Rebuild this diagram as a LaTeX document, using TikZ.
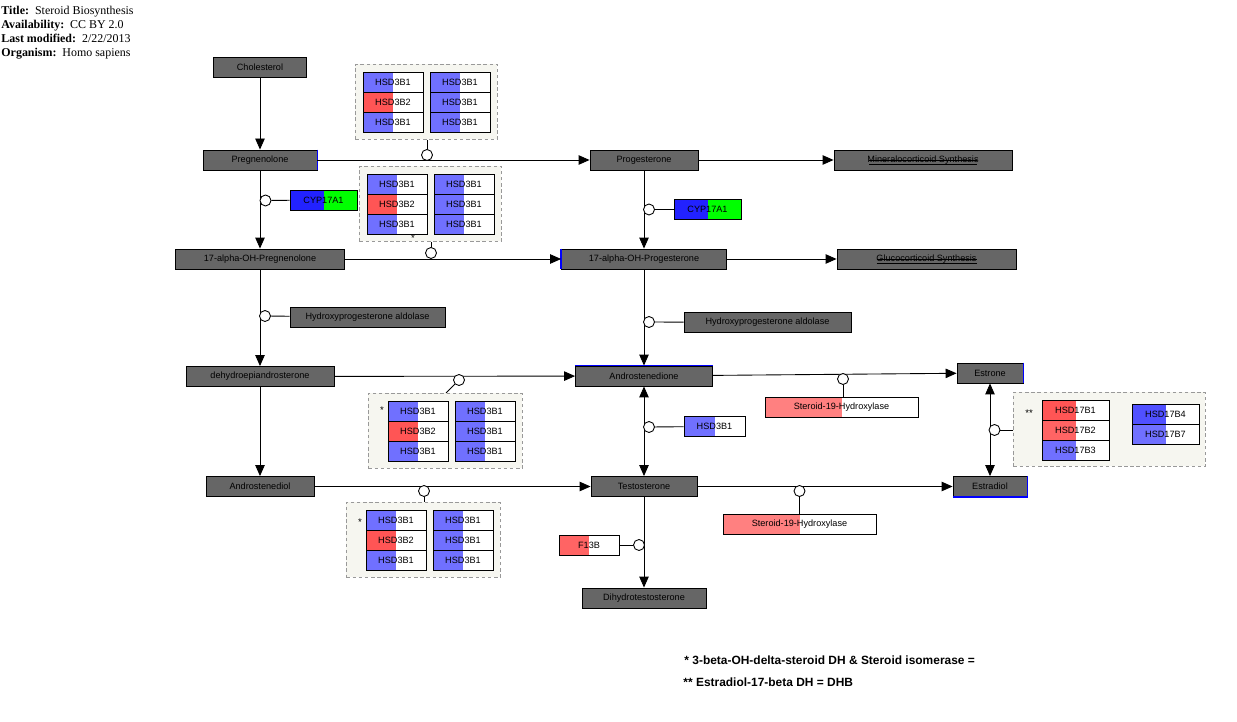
\documentclass[tikz,border=0pt]{standalone}
\usepackage{fontspec}
\setmainfont{Liberation Serif}
\setsansfont{Liberation Sans}
\usetikzlibrary{arrows.meta}
\usetikzlibrary{positioning}
\definecolor{mgray}{HTML}{666666}
\definecolor{hblue}{HTML}{7070FF}
\definecolor{dblue}{HTML}{5050FF}
\definecolor{hred}{HTML}{FF5555}
\definecolor{hred2}{HTML}{FF6464}
\definecolor{hpink}{HTML}{FF8080}
\definecolor{cblue}{HTML}{2222FF}
\definecolor{cgreen}{HTML}{00FF00}
\definecolor{grpfill}{HTML}{F6F6F0}
\definecolor{grpline}{HTML}{999999}

\tikzset{
  metab/.style={draw, fill=mgray, inner sep=0pt, minimum height=0.4cm,
    font=\sffamily\fontsize{5.2}{6}\selectfont},
  gene/.style={draw, fill=white, inner sep=0pt, minimum height=0.4cm,
    font=\sffamily\fontsize{5.2}{6}\selectfont,
    path picture={\fill[#1] (path picture bounding box.south west)
      rectangle (path picture bounding box.north);}},
  genetwo/.style 2 args={gene=#1, fill=#2},
  cat/.style={circle, draw, fill=white, inner sep=0pt, minimum size=0.22cm},
  grpbox/.style={draw=grpline, dash pattern=on 2pt off 1.5pt, fill=grpfill,
    inner sep=0pt, anchor=north west},
  rx/.style={->},
  strike/.style={line width=0.35pt},
  star/.style={font=\sffamily\fontsize{5.5}{6}\selectfont, inner sep=0pt},
  head/.style={anchor=base west, inner sep=0pt, font=\fontsize{6.8}{8}\selectfont},
  note/.style={anchor=west, inner sep=0pt,
    font=\sffamily\bfseries\fontsize{6.8}{8}\selectfont},
  bedge/.style={draw=blue, line width=0.9pt}
}

% group of HSD3B genes: name, left x, top y, left padding
\newcommand{\hsdgroup}[4]{%
  \node[grpbox, minimum width={(134+#4)*0.02cm}, minimum height=1.5cm] (#1) at (#2-#4,#3-8) {};
  \foreach \g/\hc [count=\i] in {HSD3B1/hblue,HSD3B2/hred,HSD3B1/hblue}
    \node[gene=\hc, minimum width=1.2cm] (#1a\i) at (#2+30,#3-10+20*\i) {\g};
  \foreach \i in {1,2,3}
    \node[gene=hblue, minimum width=1.2cm] (#1b\i) at (#2+97,#3-10+20*\i) {HSD3B1};
}

\begin{document}
\begin{tikzpicture}[x=0.02cm, y=-0.02cm, line width=0.5pt,
    >={Triangle[length=0.22cm, width=0.19cm]}]
  \useasboundingbox (0,0) rectangle (1237,722);

  \node[head] (hd1) at (1,15) {\textbf{Title:}\enspace Steroid Biosynthesis};
  \node[head] (hd2) at (1,29) {\textbf{Availability:}\enspace CC BY 2.0};
  \node[head] (hd3) at (1,43) {\textbf{Last modified:}\enspace 2/22/2013};
  \node[head] (hd4) at (1,56.5) {\textbf{Organism:}\enspace Homo sapiens};

  % metabolites
  \node[metab, minimum width=1.86cm] (chol) at (260,67) {Cholesterol};
  \node[metab, minimum width=2.28cm] (preg) at (260,160) {Pregnenolone};
  \node[metab, minimum width=2.16cm] (prog) at (644,160) {Progesterone};
  \node[metab, minimum width=3.56cm] (mineral) at (923,160) {Mineralocorticoid Synthesis};
  \node[metab, minimum width=3.38cm] (ohpreg) at (260,259) {17-alpha-OH-Pregnenolone};
  \node[metab, minimum width=3.30cm] (ohprog) at (644,259) {17-alpha-OH-Progesterone};
  \node[metab, minimum width=3.58cm] (gluco) at (926.5,259) {Glucocorticoid Synthesis};
  \node[metab, minimum width=2.96cm] (dhea) at (260,376.5) {dehydroepiandrosterone};
  \node[metab, minimum width=2.74cm] (andro) at (644,376) {Androstenedione};
  \node[metab, minimum width=1.32cm] (estrone) at (990,373) {Estrone};
  \node[metab, minimum width=2.16cm] (diol) at (260,486.5) {Androstenediol};
  \node[metab, minimum width=2.12cm] (testo) at (644,486.5) {Testosterone};
  \node[metab, minimum width=1.48cm] (estradiol) at (990,486.5) {Estradiol};
  \node[metab, minimum width=2.48cm] (dht) at (644,598) {Dihydrotestosterone};
  \node[metab, minimum width=3.10cm] (aldoL) at (367.5,317) {Hydroxyprogesterone aldolase};
  \node[metab, minimum width=3.34cm] (aldoR) at (767.5,322.5) {Hydroxyprogesterone aldolase};

  \draw[strike] ([xshift=-1.08cm]mineral.center) -- ([xshift=1.08cm]mineral.center);
  \draw[strike] ([xshift=-1.08cm,yshift=-0.09cm]mineral.center) -- ([xshift=1.08cm,yshift=-0.09cm]mineral.center);
  \draw[strike] ([xshift=-1.0cm]gluco.center) -- ([xshift=1.0cm]gluco.center);
  \draw[strike] ([xshift=-1.0cm,yshift=-0.09cm]gluco.center) -- ([xshift=1.0cm,yshift=-0.09cm]gluco.center);

  \draw[bedge] (preg.north east) -- (preg.south east);
  \draw[bedge] (andro.north west) -- (andro.north east);
  \draw[bedge] (estrone.north east) -- (estrone.south east);
  \draw[bedge] (estradiol.north east) -- (estradiol.south east) -- (estradiol.south west);
  \draw[bedge] (ohprog.north west) -- (ohprog.south west);

  % reactions
  \draw[rx] (chol) -- (preg);
  \draw[rx] (preg) -- (prog);
  \draw[rx] (prog) -- (mineral);
  \draw[rx] (preg) -- (ohpreg);
  \draw[rx] (prog) -- (ohprog);
  \draw[rx] (ohpreg) -- (ohprog);
  \draw[rx] (ohprog) -- (gluco);
  \draw[rx] (ohpreg) -- (dhea);
  \draw[rx] (ohprog) -- (andro);
  \draw[rx] (dhea) -- (andro);
  \draw[rx] (andro) -- (estrone);
  \draw[rx] (dhea) -- (diol);
  \draw[rx] (diol) -- (testo);
  \draw[rx] (testo) -- (estradiol);
  \draw[rx] (testo) -- (dht);
  \draw[<->] (andro) -- (testo);
  \draw[<->] (estrone) -- (estradiol);

  % enzyme groups
  \hsdgroup{ga}{363}{72}{8}
  \hsdgroup{gb}{367}{174}{8}
  \hsdgroup{gc}{388}{401}{20}
  \hsdgroup{gd}{366}{510}{20}
  \node[star] (sb) at (413,238) {*};
  \node[star] (sc) at (382,410) {*};
  \node[star] (sd) at (360,522) {*};

  \node[grpbox, minimum width=3.84cm, minimum height=1.48cm] (ge) at (1013,392) {};
  \node[star] (se) at (1029,413) {**};
  \node[gene=hred, minimum width=1.34cm] (ge1) at (1075.5,410) {HSD17B1};
  \node[gene=hred2, minimum width=1.34cm] (ge2) at (1075.5,430) {HSD17B2};
  \node[gene=hblue, minimum width=1.34cm] (ge3) at (1075.5,450) {HSD17B3};
  \node[gene=dblue, minimum width=1.34cm] (ge4) at (1165.5,414) {HSD17B4};
  \node[gene=hblue, minimum width=1.34cm] (ge5) at (1165.5,434) {HSD17B7};

  % single enzymes
  \node[genetwo={cblue}{cgreen}, minimum width=1.34cm] (cypL) at (323.5,200) {CYP17A1};
  \node[genetwo={cblue}{cgreen}, minimum width=1.34cm] (cypR) at (707.5,209.5) {CYP17A1};
  \node[gene=hblue, minimum width=1.22cm] (hsd) at (714.5,426.5) {HSD3B1};
  \node[gene=hpink, minimum width=3.06cm] (s19T) at (841.5,407) {Steroid-19-Hydroxylase};
  \node[gene=hpink, minimum width=3.06cm] (s19B) at (799.5,524) {Steroid-19-Hydroxylase};
  \node[gene=hred2, minimum width=1.2cm] (f13b) at (589,545) {F13B};

  % catalysis
  \node[cat] (ca) at (427,155) {};
  \node[cat] (cb) at (431,253) {};
  \node[cat] (cc) at (459,380) {};
  \node[cat] (cd) at (424,491) {};
  \node[cat] (ce) at (994.5,430) {};
  \node[cat] (ccypL) at (265.5,200.5) {};
  \node[cat] (ccypR) at (649,209.5) {};
  \node[cat] (caldoL) at (265,316) {};
  \node[cat] (caldoR) at (649,322) {};
  \node[cat] (chsd) at (649,427) {};
  \node[cat] (cs19T) at (843,379) {};
  \node[cat] (cs19B) at (799.5,491) {};
  \node[cat] (cf13b) at (639,545) {};
  \coordinate (gctop) at (446,393);

  \draw (ga.south -| ca) -- (ca);
  \draw (gb.south -| cb) -- (cb);
  \draw (cc) -- (gctop);
  \draw (gd.north -| cd) -- (cd);
  \draw (ce) -- (ce -| ge.west);
  \draw (ccypL) -- (cypL);
  \draw (ccypR) -- (cypR);
  \draw (caldoL) -- (aldoL);
  \draw (caldoR) -- (aldoR);
  \draw (chsd) -- (hsd);
  \draw (cs19T) -- (cs19T |- s19T.north);
  \draw (cs19B) -- (cs19B |- s19B.north);
  \draw (cf13b) -- (f13b);

  \node[note] (fn1) at (684,660) {* 3-beta-OH-delta-steroid DH \& Steroid isomerase =};
  \node[note] (fn2) at (683,682) {** Estradiol-17-beta DH = DHB};
\end{tikzpicture}
\end{document}
